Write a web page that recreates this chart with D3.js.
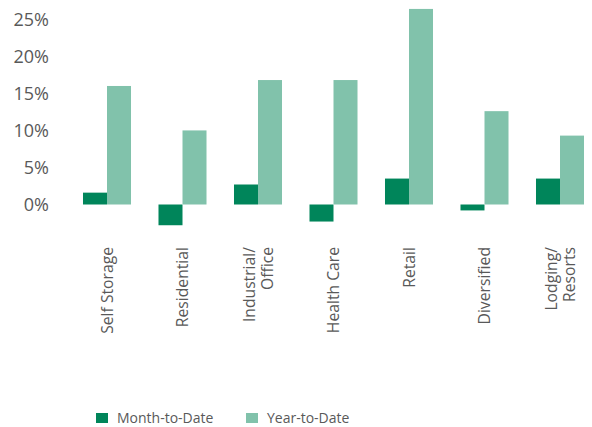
<!DOCTYPE html>
<html>
<head>
<meta charset="utf-8">
<script src="https://cdn.jsdelivr.net/npm/d3@7"></script>
<style>
  html, body { margin: 0; padding: 0; background: #fff; }
  svg { display: block; font-family: "Open Sans", sans-serif; }
</style>
</head>
<body>
<svg id="chart" width="592" height="427"></svg>
<script>
// Sector returns, in percent
const categories = [
  ["Self Storage"],
  ["Residential"],
  ["Industrial/", "Office"],
  ["Health Care"],
  ["Retail"],
  ["Diversified"],
  ["Lodging/", "Resorts"]
];
const monthToDate = [1.6, -2.8, 2.7, -2.3, 3.5, -0.8, 3.5];
const yearToDate = [16.0, 10.0, 16.8, 16.8, 26.4, 12.6, 9.3];
const seriesNames = ["Month-to-Date", "Year-to-Date"];
const yTicks = [0, 5, 10, 15, 20, 25];

const colors = ["#00855A", "#81C2AB"];
const textColor = "#595959";

const svg = d3.select("#chart");

const x = d3.scaleBand()
  .domain(d3.range(categories.length))
  .range([69.25, 597.75])
  .paddingInner(0.364)
  .paddingOuter(0.182);

const xSub = d3.scaleBand()
  .domain([0, 1])
  .range([0, x.bandwidth()]);

const y = d3.scaleLinear()
  .domain([0, 25])
  .range([204.5, 19.3]);

// Y axis labels only (no line, no ticks)
const yAxis = d3.axisLeft(y)
  .tickValues(yTicks)
  .tickFormat(d => d + "%")
  .tickSize(0)
  .tickPadding(0);

const gy = svg.append("g")
  .attr("transform", "translate(49,0)")
  .call(yAxis);
gy.select(".domain").remove();
gy.selectAll("text")
  .attr("fill", textColor)
  .attr("font-size", 18)
  .attr("font-family", "'Open Sans', sans-serif");

// Bars
const series = [monthToDate, yearToDate];
series.forEach((vals, si) => {
  svg.append("g")
    .selectAll("rect")
    .data(vals)
    .join("rect")
    .attr("x", (d, i) => x(i) + xSub(si))
    .attr("width", xSub.bandwidth())
    .attr("y", d => y(Math.max(0, d)))
    .attr("height", d => Math.abs(y(d) - y(0)))
    .attr("fill", colors[si]);
});

// Category labels, rotated
const labelTop = 247;
const lineGap = 18;
const cat = svg.append("g");
categories.forEach((lines, i) => {
  const cx = x(i) + x.bandwidth() / 2;
  lines.forEach((ln, li) => {
    const off = (li - (lines.length - 1) / 2) * lineGap;
    cat.append("text")
      .attr("transform", `translate(${cx + off},${labelTop}) rotate(-90)`)
      .attr("text-anchor", "end")
      .attr("dy", "0.35em")
      .attr("font-size", 15.7)
      .attr("fill", textColor)
      .text(ln);
  });
});

// Legend
const legendItems = [
  { x: 96, label: seriesNames[0], color: colors[0] },
  { x: 246, label: seriesNames[1], color: colors[1] }
];
const lg = svg.append("g");
legendItems.forEach(it => {
  lg.append("rect")
    .attr("x", it.x)
    .attr("y", 413)
    .attr("width", 12)
    .attr("height", 10)
    .attr("fill", it.color);
  lg.append("text")
    .attr("x", it.x + 21)
    .attr("y", 418)
    .attr("dy", "0.35em")
    .attr("font-size", 14)
    .attr("fill", textColor)
    .text(it.label);
});
</script>
</body>
</html>
